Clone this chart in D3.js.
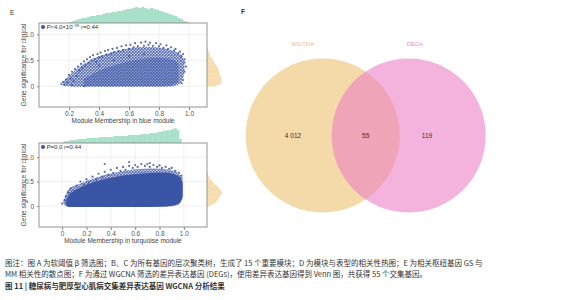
<!DOCTYPE html>
<html>
<head>
<meta charset="utf-8">
<script src="https://cdn.jsdelivr.net/npm/d3@7"></script>
<style>
  body { margin: 0; background: #fff; }
  svg { display: block; font-family: "Liberation Sans", "DejaVu Sans", sans-serif; }
  .cap { font-family: "Noto Sans CJK SC", sans-serif; }
</style>
</head>
<body>
<svg id="fig"></svg>
<script>
// ---- data ----
const xTicksBlue = [0.2, 0.4, 0.6, 0.8, 1.0];
const xTicksTurq = [0, 0.2, 0.4, 0.6, 0.8, 1.0];
const yTicks = [0, 0.5, 1.0];

// envelopes of the point cloud: [MM, GS low, GS high], sparse -> dense
const blueOuter = [[0.16, 0.03, 0.08], [0.2, 0.0, 0.2], [0.25, -0.01, 0.33], [0.36, -0.01, 0.52], [0.47, -0.01, 0.64], [0.58, -0.01, 0.72], [0.72, -0.01, 0.76], [0.85, -0.01, 0.72], [0.92, 0.02, 0.65], [0.96, 0.15, 0.55], [0.97, 0.3, 0.4]];
const blueCore = [[0.3, 0.0, 0.14], [0.4, 0.0, 0.3], [0.5, 0.0, 0.4], [0.6, 0.0, 0.48], [0.7, 0.0, 0.53], [0.8, 0.0, 0.55], [0.88, 0.02, 0.52], [0.93, 0.08, 0.44]];
const bluePoints = [[0.15, 0.04], [0.16, 0.08], [0.17, 0.02], [0.18, 0.13], [0.19, 0.07], [0.2, 0.22], [0.21, 0.15], [0.22, 0.28], [0.23, 0.1], [0.24, 0.33], [0.25, 0.2], [0.26, 0.38], [0.27, 0.3], [0.28, 0.43], [0.29, 0.35], [0.3, 0.48], [0.31, 0.4], [0.32, 0.52], [0.33, 0.45], [0.34, 0.56], [0.35, 0.5], [0.36, 0.6], [0.37, 0.53], [0.38, 0.47], [0.39, 0.62], [0.4, 0.56], [0.41, 0.65], [0.42, 0.58], [0.44, 0.68], [0.45, 0.61], [0.46, 0.7], [0.48, 0.63], [0.49, 0.72], [0.5, 0.66], [0.52, 0.74], [0.53, 0.68], [0.55, 0.77], [0.56, 0.7], [0.58, 0.79], [0.6, 0.72], [0.61, 0.8], [0.63, 0.75], [0.64, 0.83], [0.66, 0.77], [0.68, 0.84], [0.7, 0.78], [0.71, 0.86], [0.73, 0.8], [0.74, 0.84], [0.76, 0.78], [0.78, 0.83], [0.8, 0.77], [0.81, 0.81], [0.83, 0.74], [0.85, 0.79], [0.86, 0.72], [0.88, 0.75], [0.9, 0.69], [0.91, 0.72], [0.93, 0.64], [0.94, 0.67], [0.95, 0.58], [0.96, 0.62], [0.97, 0.52], [0.97, 0.46], [0.98, 0.38], [0.97, 0.28], [0.96, 0.12], [0.95, 0.06], [0.3, 0.0], [0.22, 0.02], [0.5, 0.5], [0.6, 0.58], [0.4, 0.4], [0.7, 0.62]];

const turqOuter = [[0.01, 0.04, 0.08], [0.05, -0.02, 0.33], [0.15, -0.02, 0.46], [0.3, -0.02, 0.6], [0.45, -0.02, 0.69], [0.6, -0.02, 0.75], [0.75, -0.02, 0.77], [0.88, -0.01, 0.74], [0.95, 0.02, 0.68], [0.99, 0.15, 0.58]];
const turqCore = [[0.03, 0.02, 0.1], [0.06, -0.02, 0.24], [0.12, -0.02, 0.34], [0.25, -0.02, 0.48], [0.4, -0.02, 0.58], [0.55, -0.02, 0.64], [0.7, -0.02, 0.67], [0.85, -0.01, 0.68], [0.93, 0.02, 0.64], [0.97, 0.08, 0.58], [0.99, 0.2, 0.48]];
const turqPoints = [[0.0, 0.05], [0.02, 0.12], [0.03, 0.2], [0.05, 0.28], [0.07, 0.36], [0.1, 0.3], [0.12, 0.42], [0.15, 0.5], [0.18, 0.44], [0.2, 0.55], [0.22, 0.48], [0.25, 0.6], [0.28, 0.54], [0.3, 0.66], [0.33, 0.6], [0.35, 0.7], [0.38, 0.64], [0.4, 0.74], [0.42, 0.68], [0.45, 0.78], [0.48, 0.72], [0.5, 0.8], [0.52, 0.74], [0.55, 0.82], [0.58, 0.78], [0.6, 0.84], [0.62, 0.8], [0.65, 0.86], [0.68, 0.82], [0.7, 0.86], [0.72, 0.8], [0.75, 0.84], [0.78, 0.8], [0.8, 0.83], [0.82, 0.78], [0.85, 0.8], [0.88, 0.76], [0.9, 0.78], [0.93, 0.72], [0.96, 0.68], [0.98, 0.62], [0.35, 0.86], [0.55, 0.9], [0.72, 0.88]];

// marginal histograms (relative counts)
const blueTopStart = 0.2, blueTopCounts = [1, 2, 3, 4, 5, 5, 6, 7, 7, 8, 8, 9, 10, 10, 11, 11, 12, 12, 13, 14, 14, 15, 16, 15, 16, 15, 14, 15, 14, 13, 12, 11, 10, 9, 8, 7, 5, 4, 2, 1];
const blueRightCounts = [9, 13, 14, 15, 14, 15, 14, 14, 13, 13, 12, 12, 12, 11, 10, 10, 9, 8, 7, 7, 6, 5, 4, 3, 3, 2, 2, 1, 1, 1];
const turqTopStart = 0.0, turqTopCounts = [1, 2, 2, 3, 3, 3, 4, 4, 4, 4, 5, 5, 5, 5, 5, 6, 6, 6, 6, 6, 6, 7, 7, 7, 7, 7, 7, 8, 8, 8, 8, 8, 9, 9, 9, 9, 10, 10, 10, 11, 11, 12, 12, 13, 13, 14, 15, 13, 4];
const turqRightCounts = [3, 6, 8, 9, 10, 11, 12, 12, 13, 14, 15, 15, 14, 14, 12, 11, 10, 8, 7, 6, 5, 4, 3, 2, 2, 1, 1, 1];

// venn
const vennSets = ['WGCNA', 'DEGs'];
const vennCounts = ['4 012', '55', '119'];

const captionLines = [
  '图注：图 A 为软阈值 β 筛选图；B、C 为所有基因的层次聚类树，生成了 15 个重要模块；D 为模块与表型的相关性热图；E 为相关枢纽基因 GS 与',
  'MM 相关性的散点图；F 为通过 WGCNA 筛选的差异表达基因 (DEGs)，使用差异表达基因得到 Venn 图，共获得 55 个交集基因。'
];
const captionTitle = '图 11 | 糖尿病与肥厚型心肌病交集差异表达基因 WGCNA 分析结果';

const W = 569, H = 300;
const $svg = d3.select('#fig').attr('width', W).attr('height', H);

const blue = '#3a54a6', green = '#a9e0c9', orange = '#f6dcae';

// speckle texture for the sparse part of the cloud
const pat = $svg.append('defs').append('pattern').attr('id', 'speckle')
  .attr('patternUnits', 'userSpaceOnUse').attr('width', 3).attr('height', 3);
pat.append('rect').attr('width', 3).attr('height', 3).attr('fill', blue).attr('opacity', 0.25);
pat.append('circle').attr('cx', 0.8).attr('cy', 0.8).attr('r', 1).attr('fill', blue);
pat.append('circle').attr('cx', 2.3).attr('cy', 2.1).attr('r', 0.9).attr('fill', blue);

const drawScatter = (o) => {
  const g = $svg.append('g');
  const x = d3.scaleLinear().domain(o.xDom).range([39, 207]),
    y = d3.scaleLinear().domain(o.yDom).range([o.bottom, o.top]);

  // grid
  g.selectAll('line.vg').data(o.xTicks).enter().append('line')
    .attr('x1', d => x(d)).attr('x2', d => x(d))
    .attr('y1', o.top).attr('y2', o.bottom)
    .attr('stroke', '#ececec').attr('stroke-width', 0.8);
  g.selectAll('line.hg').data(yTicks).enter().append('line')
    .attr('x1', 39).attr('x2', 207)
    .attr('y1', d => y(d)).attr('y2', d => y(d))
    .attr('stroke', '#ececec').attr('stroke-width', 0.8);

  // top histogram
  const bw = 0.02;
  g.selectAll('rect.th').data(o.topCounts).enter().append('rect')
    .attr('x', (d, i) => x(o.topStart + i * bw))
    .attr('width', x(bw) - x(0) + 0.3)
    .attr('y', d => o.top - d)
    .attr('height', d => d)
    .attr('fill', green);
  // right histogram
  const bh = 0.025;
  g.selectAll('rect.rh').data(o.rightCounts).enter().append('rect')
    .attr('x', 207)
    .attr('y', (d, i) => y((i + 1) * bh))
    .attr('height', y(0) - y(bh) + 0.3)
    .attr('width', d => d)
    .attr('fill', orange);

  // cloud
  const area = d3.area().curve(d3.curveMonotoneX)
    .x(d => x(d[0])).y0(d => y(d[1])).y1(d => y(d[2]));
  o.layers.forEach((l) => {
    g.append('path').attr('d', area(l.data))
      .attr('fill', l.speckle ? 'url(#speckle)' : blue).attr('opacity', l.op);
  });
  g.selectAll('circle.pt').data(o.points).enter().append('circle')
    .attr('cx', d => x(d[0])).attr('cy', d => y(d[1]))
    .attr('r', 1.1).attr('fill', blue).attr('opacity', 0.85);

  // frame
  g.append('rect').attr('x', 39).attr('y', o.top)
    .attr('width', 168).attr('height', o.bottom - o.top)
    .attr('fill', 'none').attr('stroke', '#8a8a8a').attr('stroke-width', 0.9);

  // axes
  g.append('g').attr('transform', 'translate(0,' + o.bottom + ')')
    .call(d3.axisBottom(x).tickValues(o.xTicks).tickSize(3).tickFormat(d => d === 0 ? '0' : d3.format('.1f')(d)))
    .call(a => a.select('.domain').remove())
    .call(a => a.selectAll('line').attr('stroke', '#8a8a8a'))
    .call(a => a.selectAll('text').attr('font-size', 6.5).attr('fill', '#555').attr('dy', '0.5em'));
  g.append('g').attr('transform', 'translate(39,0)')
    .call(d3.axisLeft(y).tickValues(yTicks).tickSize(2).tickFormat(d => d === 0 ? '0' : d3.format('.1f')(d)))
    .call(a => a.select('.domain').remove())
    .call(a => a.selectAll('line').attr('stroke', '#8a8a8a'))
    .call(a => a.selectAll('text').attr('font-size', 6.5).attr('fill', '#555'));

  g.append('text').text(o.xLabel)
    .attr('x', 123).attr('y', o.bottom + 16)
    .attr('text-anchor', 'middle').attr('font-size', 6.5).attr('fill', '#444');
  g.append('text').text('Gene significance for clinical')
    .attr('text-anchor', 'middle').attr('font-size', 6.5).attr('fill', '#444')
    .attr('transform', 'translate(26,' + ((o.top + o.bottom) / 2) + ') rotate(-90)');

  // legend
  g.append('circle').attr('cx', 43).attr('cy', o.top + 4).attr('r', 2).attr('fill', blue);
  const t = g.append('text').attr('x', 46.5).attr('y', o.top + 6).attr('font-size', 6).attr('fill', '#333');
  o.legend.forEach((s) => {
    t.append('tspan').text(s.t)
      .attr('font-style', s.i ? 'italic' : null)
      .attr('font-size', s.sup ? 4 : null)
      .attr('dy', s.dy || null);
  });
};

drawScatter({
  xDom: [0, 1.12], yDom: [-0.4, 1.22], top: 23, bottom: 107,
  xTicks: xTicksBlue, topStart: blueTopStart, topCounts: blueTopCounts,
  rightCounts: blueRightCounts,
  layers: [{ data: blueOuter, op: 0.9, speckle: true }, { data: blueCore, op: 0.45 }],
  points: bluePoints,
  xLabel: 'Module Membership in blue module',
  legend: [{ t: 'P', i: true }, { t: '<4.0×10' }, { t: '−99', sup: true, dy: -2.5 }, { t: ' r', i: true, dy: 2.5 }, { t: '=0.44' }]
});

drawScatter({
  xDom: [-0.19, 1.19], yDom: [-0.43, 1.29], top: 143, bottom: 227,
  xTicks: xTicksTurq, topStart: turqTopStart, topCounts: turqTopCounts,
  rightCounts: turqRightCounts,
  layers: [{ data: turqOuter, op: 0.9, speckle: true }, { data: turqCore, op: 1 }],
  points: turqPoints,
  xLabel: 'Module Membership in turquoise module',
  legend: [{ t: 'P', i: true }, { t: '=0.0 ' }, { t: 'r', i: true }, { t: '=0.44' }]
});

// panel letters
$svg.append('text').text('E').attr('x', 10).attr('y', 15).attr('font-size', 6.5).attr('fill', '#333');
$svg.append('text').text('F').attr('x', 241).attr('y', 14).attr('font-size', 6.5).attr('font-weight', 'bold').attr('fill', '#333');

// venn
const vx = d3.scalePoint().domain(vennSets).range([322.7, 408.7]);
const vennFill = { WGCNA: '#f4d9a9', DEGs: '#f3b3dd' };
const vennText = { WGCNA: '#e4c08c', DEGs: '#e58ccb' };
const vr = 77, vy = 135.5;
$svg.append('clipPath').attr('id', 'clipA')
  .append('circle').attr('cx', vx('WGCNA')).attr('cy', vy).attr('r', vr);
$svg.selectAll('circle.venn').data(vennSets).enter().append('circle')
  .attr('cx', d => vx(d)).attr('cy', vy).attr('r', vr)
  .attr('fill', d => vennFill[d]);
$svg.append('circle')
  .attr('cx', vx('DEGs')).attr('cy', vy).attr('r', vr)
  .attr('clip-path', 'url(#clipA)')
  .attr('fill', '#f0a4b7');
$svg.selectAll('text.vl').data(vennSets).enter().append('text')
  .text(d => d)
  .attr('x', (d, i) => i ? vx(d) + 6 : vx(d) - 20)
  .attr('y', 46).attr('text-anchor', 'middle')
  .attr('font-size', 6).attr('fill', d => vennText[d]);
const countX = [293, (vx('WGCNA') + vx('DEGs')) / 2, 427];
$svg.selectAll('text.vc').data(vennCounts).enter().append('text')
  .text(d => d)
  .attr('x', (d, i) => countX[i]).attr('y', 137.5)
  .attr('text-anchor', 'middle').attr('font-size', 6.5).attr('fill', '#333');

// caption
$svg.selectAll('text.cap').data(captionLines).enter().append('text')
  .attr('class', 'cap')
  .text(d => d)
  .attr('x', 5).attr('y', (d, i) => 266 + i * 10.5)
  .attr('font-size', 7.5).attr('fill', '#333');
$svg.append('text').attr('class', 'cap').text(captionTitle)
  .attr('x', 5).attr('y', 288.5)
  .attr('font-size', 7.5).attr('font-weight', 'bold').attr('fill', '#333');
</script>
</body>
</html>
